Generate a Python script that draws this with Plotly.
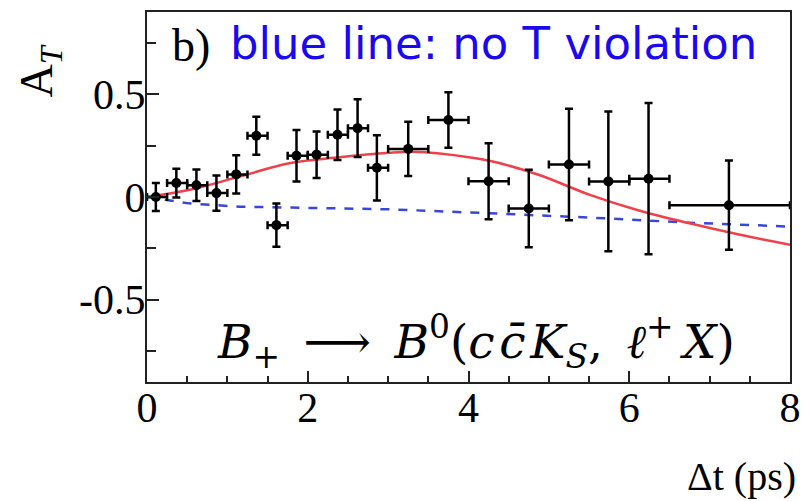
import plotly.graph_objects as go

# ---- data ----
dt = [0.11, 0.365, 0.615, 0.864, 1.11, 1.36, 1.61, 1.86, 2.11, 2.37, 2.62, 2.86,
      3.25, 3.75, 4.25, 4.75, 5.25, 5.74, 6.24, 7.24]
at = [0.0, 0.068, 0.057, 0.019, 0.110, 0.298, -0.137, 0.201, 0.206, 0.303, 0.335, 0.142,
      0.234, 0.375, 0.077, -0.056, 0.158, 0.076, 0.089, -0.040]
at_err = [0.068, 0.070, 0.077, 0.086, 0.093, 0.093, 0.105, 0.125, 0.113, 0.123, 0.141, 0.159,
          0.132, 0.135, 0.185, 0.188, 0.271, 0.340, 0.368, 0.217]
bin_lo = [0.0, 0.25, 0.5, 0.75, 1.0, 1.25, 1.5, 1.75, 2.0, 2.25, 2.5, 2.75,
          3.0, 3.5, 4.0, 4.5, 5.0, 5.5, 6.0, 6.5]
bin_hi = [0.25, 0.5, 0.75, 1.0, 1.25, 1.5, 1.75, 2.0, 2.25, 2.5, 2.75, 3.0,
          3.5, 4.0, 4.5, 5.0, 5.5, 6.0, 6.5, 8.0]

red_t = [0.0, 0.52, 1.15, 1.77, 2.39, 3.02, 3.3, 3.64, 4.26, 4.88, 5.51, 6.13, 6.75, 7.38, 8.0]
red_a = [0.0, 0.034, 0.099, 0.164, 0.193, 0.215, 0.220, 0.212, 0.176, 0.107, 0.010, -0.067,
         -0.128, -0.184, -0.233]

blue_t = [0.0, 0.11, 0.52, 1.15, 2.39, 3.02, 4.26, 5.51, 6.75, 8.0]
blue_a = [0.0, -0.006, -0.031, -0.047, -0.055, -0.060, -0.079, -0.100, -0.125, -0.144]

x_ticks = [0, 2, 4, 6, 8]
x_ticktext = ["0", "2", "4", "6", "8"]
y_ticks = [-0.5, 0, 0.5]
y_ticktext = ["-0.5", "0", "0.5"]

err_plus = [h - x for h, x in zip(bin_hi, dt)]
err_minus = [x - l for l, x in zip(bin_lo, dt)]

SERIF = "Liberation Serif, Times New Roman, serif"
MATH = "DejaVu Serif, serif"

fig = go.Figure()
fig.add_trace(go.Scatter(x=blue_t, y=blue_a, mode="lines",
                         line=dict(color="#3a46d8", width=2.5, dash="dash"),
                         hoverinfo="skip", showlegend=False))
fig.add_trace(go.Scatter(x=red_t, y=red_a, mode="lines", line_shape="spline",
                         line=dict(color="#f0404c", width=2.5),
                         hoverinfo="skip", showlegend=False))
fig.add_trace(go.Scatter(
    x=dt, y=at, mode="markers",
    marker=dict(color="black", size=10),
    error_y=dict(type="data", array=at_err, color="black", thickness=2.5, width=4),
    error_x=dict(type="data", array=err_plus, arrayminus=err_minus, color="black",
                 thickness=2.5, width=4),
    showlegend=False))

axis_common = dict(showline=True, linecolor="#222", linewidth=2, mirror=True,
                   showgrid=False, zeroline=False, ticks="inside", tickcolor="#222",
                   tickwidth=2, automargin=False,
                   tickfont=dict(family=SERIF, size=42, color="black"))

fig.update_xaxes(range=[0, 8], tickmode="array", tickvals=x_ticks, ticktext=x_ticktext,
                 ticklen=11, ticklabelstandoff=-12,
                 minor=dict(dtick=0.5, ticks="inside", ticklen=6,
                            tickcolor="#222", tickwidth=2),
                 **axis_common)
fig.update_yaxes(range=[-0.9, 0.9], tickmode="array", tickvals=y_ticks, ticktext=y_ticktext,
                 ticklen=12, ticklabelstandoff=-9,
                 minor=dict(dtick=0.25, ticks="inside", ticklen=9,
                            tickcolor="#222", tickwidth=2),
                 **axis_common)

fig.add_annotation(xref="paper", yref="paper", x=0.036, y=0.91, xanchor="left",
                   yanchor="middle", showarrow=False, text="b)",
                   font=dict(family=SERIF, size=46, color="black"))
fig.add_annotation(xref="paper", yref="paper", x=0.126, y=0.915, xanchor="left",
                   yanchor="middle", showarrow=False, text="blue line: no T violation",
                   font=dict(family="DejaVu Sans", size=45, color="#1a08f0"))
fig.add_annotation(xref="paper", yref="paper", x=0.512, y=0.11, xanchor="center",
                   yanchor="middle", showarrow=False,
                   text="<i>B</i><sub>+</sub>\u2002⟶\u2002<i>B</i><sup>0</sup>(<i>c\u200ac̄\u200aK</i><sub><i>S</i></sub>,\u2002<i>ℓ</i><sup>+</sup>\u2009<i>X</i>)",
                   font=dict(family=MATH, size=47, color="black"))
fig.add_annotation(xref="paper", yref="paper", x=-0.166, y=0.84, xanchor="center",
                   yanchor="middle", showarrow=False, textangle=-90,
                   text="A<sub><i>T</i></sub>",
                   font=dict(family=SERIF, size=46, color="black"))
fig.add_annotation(xref="paper", yref="paper", x=1.012, y=-0.255, xanchor="right",
                   yanchor="middle", showarrow=False, text="Δt (ps)",
                   font=dict(family=SERIF, size=40, color="black"))

fig.update_layout(width=802, height=501, margin=dict(l=147, r=12, t=12, b=119),
                  paper_bgcolor="white", plot_bgcolor="white")

fig.write_html("out.html", config={"displayModeBar": False},
               post_script="document.body.style.margin='0px';document.body.style.overflow='hidden';")
